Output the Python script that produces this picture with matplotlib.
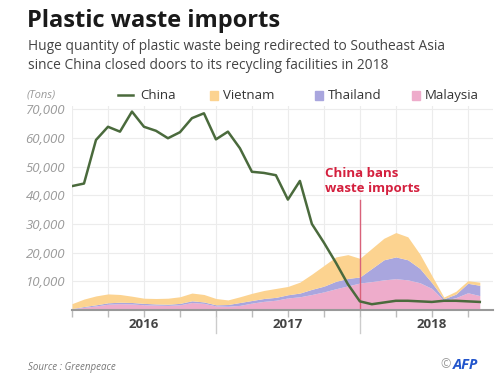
import numpy as np
import matplotlib
matplotlib.use("Agg")
import matplotlib.pyplot as plt

# monthly data, Jan 2016 .. Nov 2018 (thousand tons)
months = np.arange(35)
china = [43.2, 44.1, 59.3, 63.9, 62.2, 69.2, 63.9, 62.5, 59.9, 62.0, 66.9, 68.6,
         59.5, 62.2, 56.4, 48.2, 47.8, 47.0, 38.5, 45.0, 30.0, 23.5, 16.5, 9.0,
         3.0, 2.0, 2.6, 3.2, 3.2, 3.0, 2.8, 3.2, 3.2, 3.0, 2.8]
malaysia = [0.4, 0.9, 1.4, 2.0, 2.2, 2.1, 1.8, 1.7, 1.6, 1.8, 2.6, 2.3,
            1.4, 1.3, 1.6, 2.4, 3.0, 3.4, 4.2, 4.6, 5.4, 6.3, 7.4, 8.4,
            9.4, 9.9, 10.5, 10.9, 10.5, 9.5, 7.5, 3.3, 4.3, 6.0, 5.0]
thailand = [0.1, 0.3, 0.4, 0.5, 0.5, 0.5, 0.5, 0.4, 0.4, 0.5, 0.6, 0.5,
            0.4, 0.6, 1.0, 0.9, 1.0, 1.0, 1.1, 1.3, 1.8, 2.0, 2.6, 2.6,
            2.1, 4.6, 7.0, 7.6, 7.0, 5.0, 2.0, 0.6, 1.2, 3.3, 3.6]
vietnam = [1.7, 2.6, 3.1, 3.1, 2.7, 2.2, 1.8, 1.9, 2.1, 2.3, 2.7, 2.6,
           2.2, 1.6, 2.0, 2.5, 2.8, 3.1, 2.9, 3.8, 5.3, 7.2, 8.5, 8.3,
           6.5, 7.0, 7.5, 8.5, 8.0, 5.0, 2.5, 0.6, 1.0, 0.9, 1.1]
year_labels = ["2016", "2017", "2018"]
ytick_vals = [10000, 20000, 30000, 40000, 50000, 60000, 70000]

c_china = "#4a6a3c"
c_viet = "#fcd390"
c_thai = "#a9a6de"
c_malay = "#eeaccb"

china = np.array(china) * 1000
malaysia = np.array(malaysia) * 1000
thailand = np.array(thailand) * 1000
vietnam = np.array(vietnam) * 1000

plt.rcParams['font.family'] = ['Open Sans', 'DejaVu Sans']

fig = plt.figure(figsize=(5, 3.78), dpi=100)
ax = fig.add_axes([0.144, 0.18, 0.842, 0.5309 * 71 / 70])

# stacked areas
s1 = malaysia
s2 = s1 + thailand
s3 = s2 + vietnam
ax.fill_between(months, 0, s1, color=c_malay, lw=0, zorder=2)
ax.fill_between(months, s1, s2, color=c_thai, lw=0, zorder=2)
ax.fill_between(months, s2, s3, color=c_viet, lw=0, zorder=2)

ax.plot(months, china, color=c_china, lw=1.8, zorder=4)

# ban marker
ax.plot([24, 24], [0, 38500], color="#d9627a", lw=1, zorder=3)
ax.text(21.1, 45000, "China bans\nwaste imports", color="#d4203e", fontsize=9.5,
        fontweight="bold", va="center", ha="left", linespacing=1.2)

ax.set_xlim(0, 35.1)
ax.set_ylim(0, 71000)
ax.set_yticks(ytick_vals)
ax.set_yticklabels([f"{v:,}" for v in ytick_vals], fontsize=9.5, style="italic",
                   color="#9a9a9a")
ax.set_xticks(np.arange(0, 36, 3))
ax.set_xticklabels([])
ax.tick_params(axis="y", length=0, pad=5)
ax.tick_params(axis="x", length=5, color="#bbbbbb", width=1)
ax.grid(True, color="#ececec", lw=0.8, zorder=0)
ax.set_axisbelow(True)
for s in ["top", "right", "left"]:
    ax.spines[s].set_visible(False)
ax.spines["bottom"].set_color("#999999")
ax.spines["bottom"].set_linewidth(1.5)
ax.spines["bottom"].set_zorder(5)

# year separators and labels
for yx in [12, 24]:
    ax.plot([yx, yx], [-2500, -8000], color="#cccccc", lw=1, clip_on=False)
for i, lab in enumerate(year_labels):
    ax.text(6 + 12 * i, -5000, lab, ha="center", va="center", fontsize=9.5,
            fontweight="bold", color="#444444")

# titles
fig.text(0.054, 0.945, "Plastic waste imports", fontsize=17, fontweight="bold",
         color="#1a1a1a", va="center")
fig.text(0.056, 0.876, "Huge quantity of plastic waste being redirected to Southeast Asia",
         fontsize=9.9, color="#444444", va="center")
fig.text(0.056, 0.828, "since China closed doors to its recycling facilities in 2018",
         fontsize=9.9, color="#444444", va="center")

# legend
ly = 0.748
fig.text(0.054, ly, "(Tons)", fontsize=8, style="italic", color="#9a9a9a", va="center")
fig.add_artist(plt.Line2D([0.236, 0.266], [ly, ly], color=c_china, lw=1.8))
fig.text(0.28, ly, "China", fontsize=9.5, color="#333333", va="center")
for xx, col, lab in [(0.42, c_viet, "Vietnam"), (0.63, c_thai, "Thailand"),
                     (0.824, c_malay, "Malaysia")]:
    fig.add_artist(plt.Rectangle((xx, ly - 0.012), 0.016, 0.024, color=col,
                                 transform=fig.transFigure))
    fig.text(xx + 0.026, ly, lab, fontsize=9.5, color="#333333", va="center")

# footer
fig.text(0.056, 0.028, "Source : Greenpeace", fontsize=7, style="italic",
         color="#777777", va="center")
fig.text(0.88, 0.035, "©", fontsize=9, color="#999999", va="center")
fig.text(0.905, 0.035, "AFP", fontsize=10.5, color="#2255cc", fontweight="bold",
         style="italic", va="center")

fig.savefig("out.png", dpi=100)
